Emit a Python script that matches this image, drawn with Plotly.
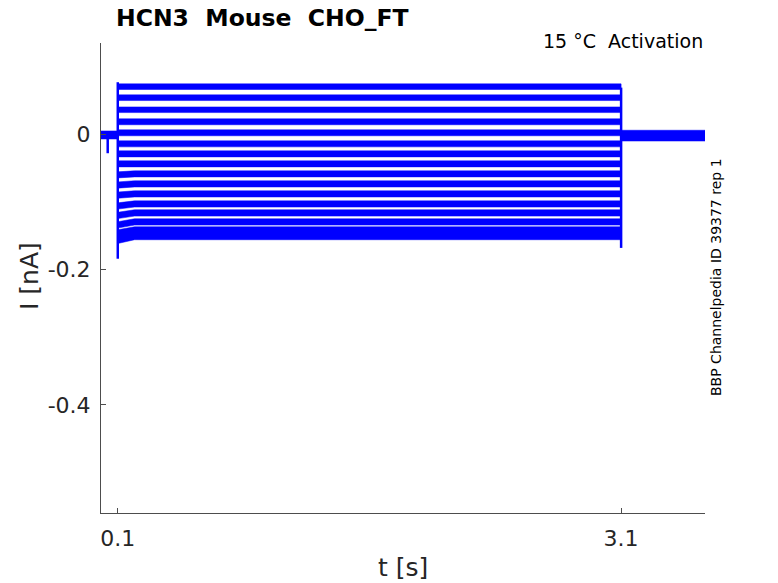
import plotly.graph_objects as go

# protocol timing [s]
t_start = 0.0
t_on = 0.1
t_settle = 0.2
t_off = 3.1
t_end = 3.6

# steady current of each sweep during the step [nA], and its noise half-width
step_levels = [0.0704, 0.0541, 0.0363, 0.0185, 0.0022, -0.0141, -0.0289, -0.0437,
               -0.0585, -0.0733, -0.0881, -0.1030, -0.1163, -0.1296, -0.1415, -0.1504]
start_levels = [0.0704, 0.0541, 0.0363, 0.0185, 0.0022, -0.0141, -0.0289, -0.0437,
                -0.0600, -0.0750, -0.0900, -0.1060, -0.1200, -0.1340, -0.1460, -0.1560]
step_noise = [0.0042, 0.0042, 0.0042, 0.0044, 0.0044, 0.0045, 0.0045, 0.0045,
              0.0045, 0.0046, 0.0046, 0.0046, 0.0047, 0.0047, 0.0048, 0.0055]

# holding current before / after the step
hold_pre = -0.001
hold_pre_noise = 0.006
hold_post = -0.002
hold_post_noise = 0.008
artifact_t = 0.04
artifact_min = -0.028

# capacitive transients at step on/off
onset_peak = [0.077, -0.184]
offset_peak = [0.069, -0.168]

BLUE = '#0000ff'
AXC = '#4d4d4d'

fig = go.Figure()

# step bands, one polygon per sweep
xs, ys = [], []
for lvl, st, hw in zip(step_levels, start_levels, step_noise):
    xs += [t_on, t_settle, t_off, t_off, t_settle, t_on, None]
    ys += [st + hw, lvl + hw, lvl + hw, lvl - hw, lvl - hw, st - hw, None]

# holding segments
xs += [t_start, t_on, t_on, t_start, None]
ys += [hold_pre + hold_pre_noise, hold_pre + hold_pre_noise,
       hold_pre - hold_pre_noise, hold_pre - hold_pre_noise, None]
xs += [t_off, t_end, t_end, t_off, None]
ys += [hold_post + hold_post_noise, hold_post + hold_post_noise,
       hold_post - hold_post_noise, hold_post - hold_post_noise, None]

fig.add_trace(go.Scatter(x=xs, y=ys, mode='lines', fill='toself',
                         fillcolor=BLUE, line=dict(color=BLUE, width=0.5),
                         hoverinfo='skip', showlegend=False))

# transients and the small artifact
fig.add_trace(go.Scatter(
    x=[t_on, t_on, None, t_off, t_off, None, artifact_t, artifact_t],
    y=[onset_peak[0], onset_peak[1], None, offset_peak[0], offset_peak[1], None,
       hold_pre, artifact_min],
    mode='lines', line=dict(color=BLUE, width=2.5),
    hoverinfo='skip', showlegend=False))

fig.update_layout(
    width=778, height=583,
    margin=dict(l=101, r=73, t=43, b=70),
    paper_bgcolor='white', plot_bgcolor='white',
    font=dict(family='DejaVu Sans', color='#262626'),
    showlegend=False,
    xaxis=dict(range=[0, 3.6], tickvals=[0.1, 3.1], ticktext=['0.1', '3.1'],
               showline=True, linecolor=AXC, linewidth=1, ticks='inside',
               ticklen=5, tickcolor=AXC, showgrid=False, zeroline=False,
               tickfont=dict(size=22), ticklabelstandoff=6, automargin=False),
    yaxis=dict(range=[-0.56, 0.135], tickvals=[0, -0.2, -0.4],
               ticktext=['0', '-0.2', '-0.4'],
               showline=True, linecolor=AXC, linewidth=1, ticks='inside',
               ticklen=5, tickcolor=AXC, showgrid=False, zeroline=False,
               tickfont=dict(size=22), ticklabelstandoff=5, automargin=False),
)

# axis titles placed as paper annotations (MATLAB-like positions)
fig.add_annotation(text='t [s]', xref='paper', yref='paper',
                   x=(403 - 101) / 604, y=0, yshift=-(567 - 513),
                   xanchor='center', yanchor='middle', showarrow=False,
                   font=dict(size=25, color='#262626'))
fig.add_annotation(text='I [nA]', xref='paper', yref='paper',
                   x=0, xshift=-(101 - 29), y=(513 - 276) / 470, textangle=-90,
                   xanchor='center', yanchor='middle', showarrow=False,
                   font=dict(size=25, color='#262626'))

fig.add_annotation(text='<b>HCN3  Mouse  CHO_FT</b>', xref='paper', yref='paper',
                   x=(114 - 101) / 604, y=1, yshift=43 - 18, xanchor='left',
                   yanchor='middle', showarrow=False,
                   font=dict(size=23.5, color='black'))
fig.add_annotation(text='15 °C  Activation', xref='paper', yref='paper',
                   x=1, y=1, yshift=-(41 - 43), xanchor='right', yanchor='middle',
                   showarrow=False, font=dict(size=19, color='black'))
fig.add_annotation(text='BBP Channelpedia ID 39377 rep 1', xref='paper', yref='paper',
                   x=1, xshift=716 - 705, y=(513 - 277) / 470, textangle=-90,
                   xanchor='center', yanchor='middle', showarrow=False,
                   font=dict(size=14, color='black'))

# drop the page's default body margin so the figure sits at the window origin
fig.write_html('out.html', config={'displayModeBar': False},
               post_script="document.body.style.margin='0';")
